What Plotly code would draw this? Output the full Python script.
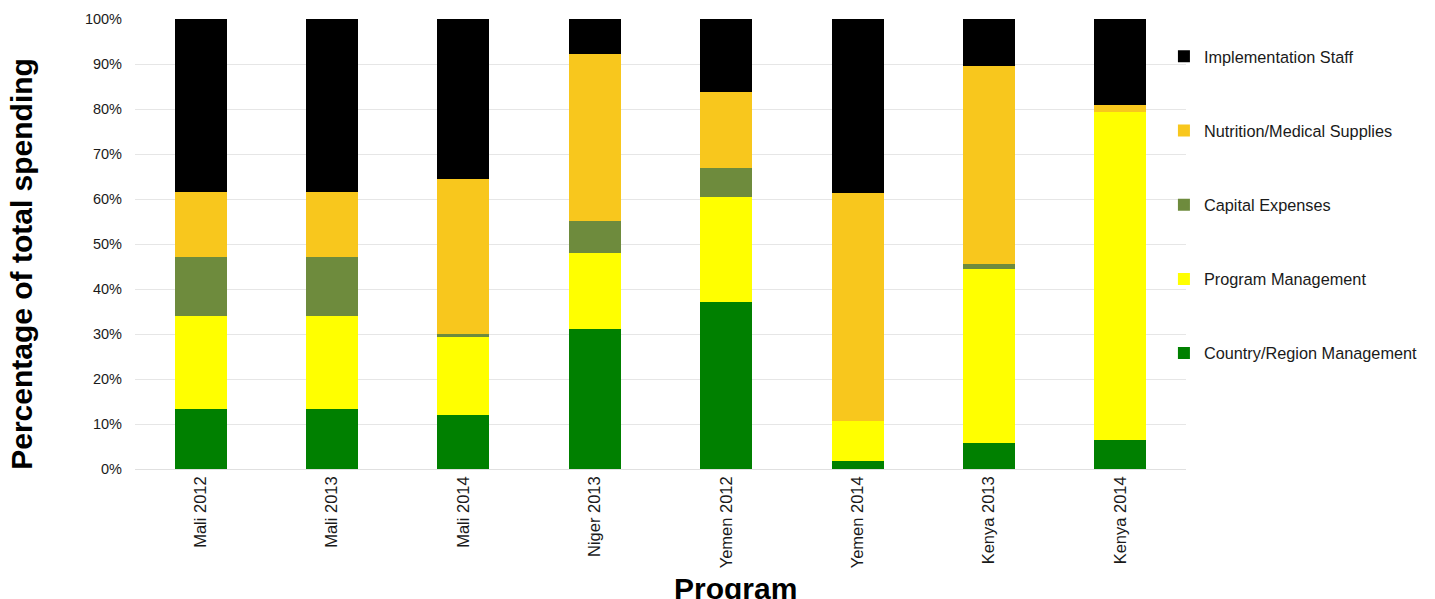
import plotly.graph_objects as go

programs = ["Mali 2012", "Mali 2013", "Mali 2014", "Niger 2013",
            "Yemen 2012", "Yemen 2014", "Kenya 2013", "Kenya 2014"]

# Share of total spending (%) per cost category, bottom to top of each stack
country_region_mgmt = [13.3, 13.3, 12.0, 31.1, 37.1, 1.7, 5.8, 6.4]
program_mgmt = [20.7, 20.7, 17.3, 16.9, 23.3, 9.0, 38.7, 73.0]
capital_expenses = [13.1, 13.1, 0.6, 7.1, 6.5, 0.0, 1.0, 0.0]
nutrition_medical = [14.4, 14.4, 34.5, 37.1, 16.9, 50.6, 44.1, 1.4]
implementation_staff = [38.5, 38.5, 35.6, 7.8, 16.2, 38.7, 10.4, 19.2]

series = [
    ("Country/Region Management", country_region_mgmt, "#008000"),
    ("Program Management", program_mgmt, "#FFFF00"),
    ("Capital Expenses", capital_expenses, "#6E8B3D"),
    ("Nutrition/Medical Supplies", nutrition_medical, "#F8C71D"),
    ("Implementation Staff", implementation_staff, "#000000"),
]

font_family = "Liberation Sans, Arial, Helvetica, sans-serif"

fig = go.Figure()
n = len(series)
for i, (name, values, color) in enumerate(series):
    fig.add_trace(go.Bar(
        x=programs, y=values, name=name, legendgroup=name,
        legendrank=n - i,  # top of the stack listed first
        marker=dict(color=color, line=dict(width=0)),
    ))

fig.update_layout(
    width=1435, height=599,
    barmode="stack", bargap=0.604,
    paper_bgcolor="white", plot_bgcolor="white",
    margin=dict(l=135, r=249, t=19, b=130, autoexpand=False),
    font=dict(family=font_family, color="#1a1a1a"),
    legend=dict(
        x=0.979, xanchor="left", y=0.955, yanchor="top",
        traceorder="grouped", tracegroupgap=50,
        font=dict(size=16.3, family=font_family, color="#1a1a1a"),
        bgcolor="rgba(0,0,0,0)",
    ),
    xaxis=dict(
        tickangle=-90, tickfont=dict(size=16.5), showgrid=False,
        showline=False, ticklabelstandoff=3,
    ),
    yaxis=dict(
        range=[0, 100], dtick=10, ticksuffix="%", tickfont=dict(size=14.5),
        showgrid=True, gridcolor="#e6e6e6", gridwidth=1,
        zeroline=True, zerolinecolor="#e0e0e0", zerolinewidth=1,
        showline=False, ticklabelstandoff=12,
    ),
    annotations=[
        dict(text="<b>Percentage of total spending</b>", textangle=-90,
             xref="paper", yref="paper", x=-0.1075, y=0.456,
             xanchor="center", yanchor="middle", showarrow=False,
             font=dict(size=30, family=font_family, color="#000000")),
        dict(text="<b>Program</b>",
             xref="paper", yref="paper", x=0.571, y=-0.266,
             xanchor="center", yanchor="middle", showarrow=False,
             font=dict(size=30, family=font_family, color="#000000")),
    ],
)

fig.write_html("out.html")
